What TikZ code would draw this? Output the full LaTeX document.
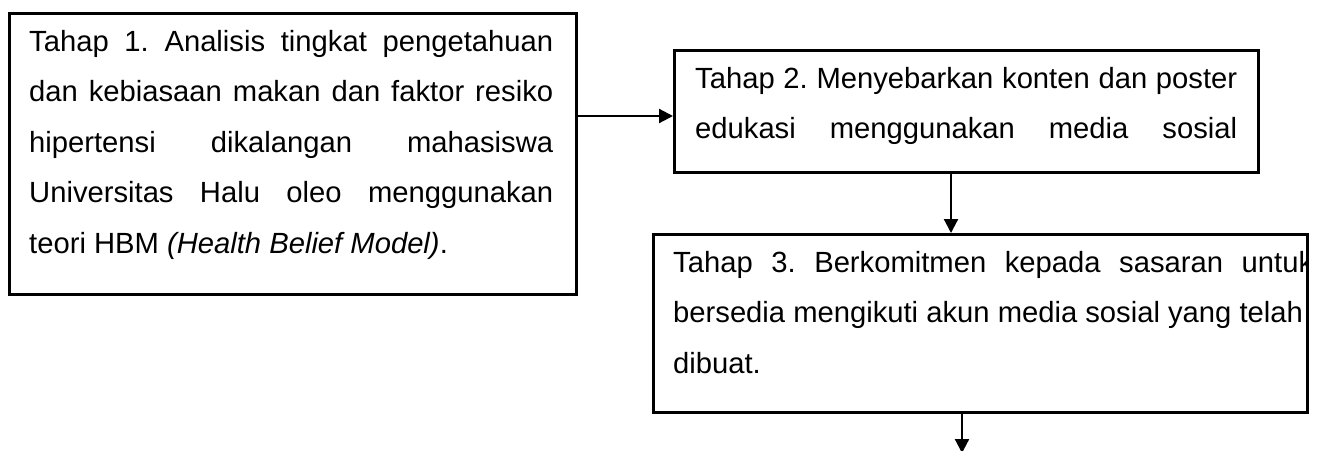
\documentclass[tikz,border=0pt]{standalone}
\usepackage{fontspec}
\setmainfont{Liberation Sans}
\usetikzlibrary{arrows.meta}
\frenchspacing
\begin{document}
\begin{tikzpicture}[x=1pt,y=-1pt,
  box/.style={draw=black, line width=2.6pt, rectangle, inner sep=0pt, anchor=north west},
  txt/.style={inner sep=0pt, anchor=base west, font=\fontsize{29.2pt}{50.6pt}\selectfont\frenchspacing},
  conn/.style={draw=black, line width=2.2pt, -{Triangle[length=14pt,width=14pt]}}]
\useasboundingbox (0,0) rectangle (1325,450);
% boxes
\node[box, minimum width=567pt, minimum height=281pt] (b1) at (8,12) {};
\node[box, minimum width=584pt, minimum height=122pt] (b2) at (673,49) {};
\node[box, minimum width=654pt, minimum height=178pt] (b3) at (652,233) {};
% texts
\node[txt] (t1) at (29,51) {\parbox[t]{524pt}{%
\makebox[524pt][s]{Tahap 1. Analisis tingkat pengetahuan}\\
\makebox[524pt][s]{dan kebiasaan makan dan faktor resiko}\\
\makebox[524pt][s]{hipertensi dikalangan mahasiswa}\\
\makebox[524pt][s]{Universitas Halu oleo menggunakan}\\
teori HBM \textit{(Health Belief Model)}.}};
\node[txt] (t2) at (695,88) {\parbox[t]{542pt}{%
\makebox[542pt][s]{Tahap 2. Menyebarkan konten dan poster}\\
\makebox[542pt][s]{edukasi menggunakan media sosial}}};
\begin{scope}
\clip (b3.north west) rectangle (b3.south east);
\node[txt] (t3) at (673,272) {\parbox[t]{640pt}{%
\makebox[640pt][s]{Tahap 3. Berkomitmen kepada sasaran untuk}\\
\makebox[640pt][l]{bersedia mengikuti akun media sosial yang telah}\\
dibuat.}};
\end{scope}
% connectors
\coordinate (ya) at (0,116);
\coordinate (xb) at (951,0);
\coordinate (end) at (962,453);
\draw[conn] (b1.east |- ya) -- (b2.west |- ya);
\draw[conn] (b2.south -| xb) -- (b3.north -| xb);
\draw[conn] (b3.south -| end) -- (end);
\end{tikzpicture}
\end{document}
